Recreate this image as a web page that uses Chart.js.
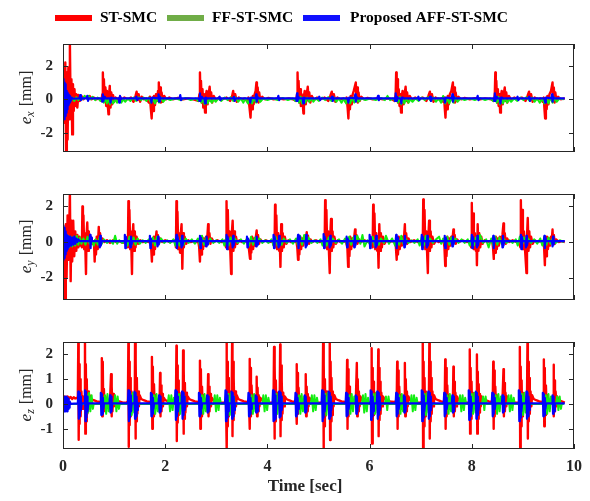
<!DOCTYPE html>
<html>
<head>
<meta charset="utf-8">
<script src="https://cdn.jsdelivr.net/npm/chart.js@4.4.1/dist/chart.umd.min.js"></script>
<style>
  body { margin: 0; background: #fff; }
  #wrap { position: relative; width: 590px; height: 501px; overflow: hidden; }
  #wrap canvas { position: absolute; left: 0; }
</style>
</head>
<body>
<div id="wrap">
  <canvas id="chartX" width="590" height="172" style="top:0"></canvas>
  <canvas id="chartY" width="590" height="160" style="top:160px"></canvas>
  <canvas id="chartZ" width="590" height="191" style="top:310px"></canvas>
</div>
<script>
var seriesNames = ['ST-SMC', 'FF-ST-SMC', 'Proposed AFF-ST-SMC'];
var lineColors = ['#ff0000', '#11ee11', '#0000ff'];
var legendColors = ['#ff0000', '#70ad47', '#1010ff'];
var timeTicks = [0, 2, 4, 6, 8, 10];
var exTicks = [-2, 0, 2];
var eyTicks = [-2, 0, 2];
var ezTicks = [-1, 0, 1, 2];

// tracking error e_x [mm] vs time [sec]
var exRed = [
  [0,0.2],[0.015,1.3],[0.03,-1.4],[0.045,2.2],[0.06,-3.2],[0.075,1.6],[0.09,-2.4],[0.105,1.9],[0.12,-1.2],[0.135,3.3],[0.15,-0.8],[0.165,1.2],[0.18,-2.1],[0.195,0.9],[0.21,-0.7],[0.225,0.6],[0.24,-0.4],[0.26,0.3],[0.28,-0.5],[0.3,0.25],[0.33,-0.1],[0.36,0.2],[0.4,0.0],[0.44,0.15],[0.48,0.05],[0.52,0.2],[0.56,0.0],[0.6,0.1],[0.65,0.0],[0.7,0.05],
  [0.75,-0.1],[0.77,0.3],[0.78,1.6],[0.79,0.1],[0.8,1.2],[0.815,-0.1],[0.83,0.7],[0.845,-0.4],[0.86,0.5],[0.875,-0.3],[0.89,-0.9],[0.9,0.2],[0.915,0.8],[0.93,-0.5],[0.945,0.4],[0.96,-0.3],[0.98,0.25],[1.0,-0.15],[1.03,0.1],[1.07,0.0],
  [1.12,0.15],[1.15,-0.1],[1.2,0.1],[1.27,0.0],[1.33,0.1],[1.38,-0.15],[1.42,0.2],[1.44,0.45],[1.46,-0.05],[1.48,0.3],[1.51,-0.15],[1.54,0.15],[1.58,0.0],[1.63,0.05],
  [1.68,-0.2],[1.7,0.15],[1.72,-0.6],[1.735,-1.15],[1.75,0.1],[1.765,-0.7],[1.78,0.2],[1.8,-0.35],[1.82,0.3],[1.84,-0.1],[1.86,0.5],[1.875,1.0],[1.885,0.1],[1.9,0.7],[1.915,-0.2],[1.93,0.4],[1.95,-0.15],[1.98,0.2],[2.02,0.0],[2.08,0.1],[2.15,0.0],[2.25,0.08],[2.35,0.0],[2.45,0.05],[2.55,0.0],
  [2.65,-0.1],[2.67,0.3],[2.68,1.6],[2.69,0.1],[2.7,1.1],[2.715,-0.2],[2.73,0.6],[2.745,-0.5],[2.76,0.3],[2.78,-0.8],[2.795,0.2],[2.81,0.5],[2.83,-0.3],[2.85,0.3],[2.87,0.75],[2.885,-0.1],[2.9,0.4],[2.92,-0.2],[2.95,0.2],[2.99,-0.05],[3.05,0.1],[3.12,0.0],[3.2,0.1],[3.27,-0.1],[3.31,0.2],[3.33,0.5],[3.35,-0.05],[3.37,0.3],[3.4,-0.15],[3.44,0.1],[3.5,0.0],[3.56,0.05],
  [3.61,-0.15],[3.63,0.1],[3.65,-0.5],[3.67,-1.1],[3.685,0.05],[3.7,-0.6],[3.715,0.2],[3.73,-0.3],[3.75,0.3],[3.77,0.5],[3.785,1.0],[3.795,0.1],[3.81,0.7],[3.825,-0.2],[3.84,0.4],[3.86,-0.1],[3.9,0.15],[3.95,0.0],[4.02,0.08],[4.12,0.0],[4.22,0.06],[4.32,0.0],[4.42,0.05],[4.5,0.0],
  [4.56,-0.1],[4.58,0.3],[4.59,1.6],[4.6,0.1],[4.61,1.1],[4.625,-0.2],[4.64,0.6],[4.655,-0.4],[4.67,0.3],[4.69,-0.2],[4.705,-0.85],[4.715,0.2],[4.73,0.5],[4.75,-0.3],[4.77,0.3],[4.79,0.75],[4.805,-0.1],[4.82,0.4],[4.84,-0.2],[4.87,0.2],[4.91,-0.05],[4.97,0.1],[5.04,0.0],[5.12,0.1],[5.19,-0.1],[5.23,0.2],[5.26,0.45],[5.28,-0.05],[5.3,0.3],[5.33,-0.15],[5.37,0.1],[5.43,0.0],[5.49,0.05],
  [5.53,-0.15],[5.55,0.1],[5.57,-0.5],[5.585,-1.15],[5.6,0.05],[5.615,-0.6],[5.63,0.2],[5.65,-0.3],[5.67,0.3],[5.69,0.5],[5.73,1.0],[5.74,0.1],[5.755,0.7],[5.77,-0.2],[5.785,0.4],[5.805,-0.1],[5.84,0.15],[5.89,0.0],[5.96,0.08],[6.06,0.0],[6.16,0.06],[6.26,0.0],[6.36,0.05],[6.44,0.0],
  [6.49,-0.1],[6.51,0.3],[6.52,1.6],[6.53,0.1],[6.54,1.2],[6.555,-0.2],[6.57,0.6],[6.585,-0.4],[6.6,0.3],[6.615,-0.8],[6.63,0.2],[6.645,0.5],[6.665,-0.3],[6.685,0.3],[6.705,0.75],[6.72,-0.1],[6.735,0.4],[6.755,-0.2],[6.785,0.2],[6.83,-0.05],[6.89,0.1],[6.96,0.0],[7.04,0.1],[7.11,-0.1],[7.15,0.2],[7.18,0.45],[7.2,-0.05],[7.22,0.3],[7.25,-0.15],[7.29,0.1],[7.35,0.0],[7.41,0.05],
  [7.44,-0.15],[7.46,0.1],[7.47,-0.5],[7.485,-1.1],[7.5,0.05],[7.515,-0.6],[7.53,0.2],[7.55,-0.3],[7.57,0.3],[7.6,0.5],[7.63,1.0],[7.64,0.1],[7.655,0.7],[7.67,-0.2],[7.685,0.4],[7.705,-0.1],[7.74,0.15],[7.79,0.0],[7.86,0.08],[7.96,0.0],[8.06,0.06],[8.16,0.0],[8.26,0.05],[8.38,0.0],
  [8.43,-0.1],[8.45,0.3],[8.46,1.6],[8.47,0.1],[8.48,1.1],[8.495,-0.2],[8.51,0.6],[8.525,-0.4],[8.54,0.3],[8.555,-0.8],[8.57,0.2],[8.585,0.5],[8.605,-0.3],[8.625,0.3],[8.645,0.7],[8.66,-0.1],[8.675,0.4],[8.695,-0.2],[8.725,0.2],[8.77,-0.05],[8.83,0.1],[8.9,0.0],[8.98,0.1],[9.05,-0.1],[9.09,0.2],[9.12,0.45],[9.14,-0.05],[9.16,0.3],[9.19,-0.15],[9.23,0.1],[9.29,0.0],[9.35,0.05],
  [9.39,-0.15],[9.41,0.1],[9.42,-0.5],[9.435,-1.15],[9.45,0.05],[9.465,-0.6],[9.48,0.2],[9.5,-0.3],[9.52,0.3],[9.55,0.5],[9.58,1.0],[9.59,0.1],[9.605,0.7],[9.62,-0.2],[9.635,0.4],[9.655,-0.1],[9.69,0.15],[9.74,0.0],[9.82,0.05]
];
var exGreen = [
  [0,0],[0.02,0.3],[0.04,-0.35],[0.06,0.25],[0.08,-0.2],[0.11,0.2],[0.14,-0.15],[0.18,0.1],[0.22,-0.1],[0.26,0.12],[0.3,-0.05],[0.34,0.15],[0.38,0.0],[0.42,0.2],[0.46,0.05],[0.5,0.2],[0.54,0.0],[0.58,0.15],[0.63,-0.05],[0.68,0.1],[0.73,-0.1],[0.77,0.1],[0.8,-0.2],[0.83,0.05],[0.86,-0.25],[0.89,0.0],[0.92,-0.3],[0.95,-0.05],[0.98,-0.25],[1.02,0.0],[1.06,-0.2],[1.1,0.05],[1.14,-0.2],[1.18,0.0],[1.22,-0.15],[1.27,0.05],[1.32,-0.1],[1.38,0.1],[1.43,-0.1],[1.48,0.12],[1.53,-0.05],[1.58,0.1],[1.63,-0.1],[1.68,0.1],[1.72,-0.2],[1.76,0.05],[1.8,-0.25],[1.84,0.05],[1.88,-0.2],[1.92,0.1],[1.96,-0.15],[2.02,0.05],[2.1,-0.05],[2.2,0.05],[2.3,-0.05],[2.4,0.08],[2.5,-0.05],[2.6,0.05],
  [2.64,-0.1],[2.68,0.1],[2.71,-0.2],[2.74,0.05],[2.77,-0.3],[2.8,0.0],[2.83,-0.25],[2.87,0.05],[2.91,-0.2],[2.95,0.0],[2.99,-0.15],[3.04,0.05],[3.1,-0.1],[3.16,0.1],[3.22,-0.05],[3.28,0.12],[3.33,-0.1],[3.38,0.1],[3.43,-0.15],[3.48,0.05],[3.53,-0.2],[3.57,0.05],[3.62,-0.25],[3.66,0.05],[3.7,-0.25],[3.74,0.1],[3.78,-0.2],[3.82,0.1],[3.86,-0.15],[3.92,0.05],[4.0,-0.05],[4.1,0.05],[4.2,-0.05],[4.3,0.08],[4.4,-0.05],[4.5,0.05],
  [4.55,-0.1],[4.59,0.1],[4.62,-0.2],[4.65,0.15],[4.68,-0.25],[4.71,0.1],[4.74,-0.2],[4.78,0.1],[4.82,-0.15],[4.86,0.05],[4.9,-0.15],[4.95,0.05],[5.01,-0.1],[5.07,0.1],[5.13,-0.05],[5.19,0.12],[5.25,-0.1],[5.3,0.1],[5.35,-0.15],[5.4,0.05],[5.45,-0.2],[5.5,0.05],[5.54,-0.25],[5.58,0.05],[5.62,-0.25],[5.66,0.1],[5.7,-0.2],[5.74,0.1],[5.78,-0.15],[5.84,0.05],[5.92,-0.05],[6.02,0.05],[6.12,-0.05],[6.22,0.08],[6.3,-0.05],[6.35,0.2],[6.4,-0.05],[6.46,0.05],
  [6.5,-0.1],[6.53,0.1],[6.56,-0.2],[6.59,0.15],[6.62,-0.3],[6.65,0.05],[6.68,-0.25],[6.72,0.05],[6.76,-0.2],[6.8,0.0],[6.84,-0.15],[6.9,0.05],[6.96,-0.1],[7.02,0.1],[7.08,-0.05],[7.14,0.12],[7.2,-0.1],[7.25,0.1],[7.3,-0.15],[7.35,0.05],[7.4,-0.2],[7.44,0.2],[7.48,-0.25],[7.52,0.05],[7.56,-0.25],[7.6,0.1],[7.64,-0.2],[7.68,0.1],[7.72,-0.15],[7.78,0.05],[7.86,-0.05],[7.96,0.05],[8.06,-0.05],[8.16,0.08],[8.26,-0.05],[8.36,0.05],
  [8.42,-0.1],[8.46,0.1],[8.49,-0.2],[8.52,0.15],[8.55,-0.3],[8.58,0.05],[8.61,-0.25],[8.65,0.05],[8.69,-0.2],[8.73,0.0],[8.77,-0.15],[8.83,0.05],[8.89,-0.1],[8.95,0.1],[9.01,-0.05],[9.07,0.12],[9.13,-0.1],[9.18,0.1],[9.23,-0.15],[9.28,0.05],[9.33,-0.2],[9.38,0.05],[9.42,-0.25],[9.46,0.05],[9.5,-0.25],[9.54,0.1],[9.58,-0.2],[9.62,0.1],[9.66,-0.15],[9.72,0.05],[9.8,0.0]
];
var exBlue = [
  [0,0.0],[0.008,1.2],[0.016,-1.1],[0.024,1.0],[0.032,-1.2],[0.04,0.9],[0.048,-1.0],[0.056,0.7],[0.064,-0.8],[0.072,0.5],[0.08,-0.6],[0.09,0.4],[0.1,-0.35],[0.11,0.3],[0.12,-0.2],[0.135,0.2],[0.15,-0.1],[0.17,0.1],[0.2,0.03],
  [0.32,0.05],[0.335,0.25],[0.35,-0.05],[0.37,0.05],[0.46,0.05],[0.475,0.2],[0.49,-0.1],[0.51,0.05],[0.76,0.05],[0.77,-0.15],[0.78,0.3],[0.79,-0.1],[0.805,0.15],[0.82,0.05],[0.92,0.05],[0.93,-0.2],[0.945,0.1],[0.96,0.05],
  [1.09,0.05],[1.1,-0.2],[1.115,0.2],[1.13,0.0],[1.15,0.05],[1.42,0.05],[1.435,0.15],[1.45,-0.05],[1.47,0.05],[1.72,0.05],[1.73,-0.2],[1.745,0.1],[1.86,0.05],[1.87,0.3],[1.88,-0.15],[1.895,0.15],[1.91,0.05],
  [2.28,0.05],[2.295,0.25],[2.31,-0.05],[2.33,0.05],[2.66,0.05],[2.67,-0.1],[2.68,0.35],[2.69,-0.1],[2.705,0.15],[2.72,0.05],[2.77,0.05],[2.78,-0.25],[2.795,0.1],[2.81,0.05],
  [3.05,0.05],[3.065,0.15],[3.08,-0.05],[3.1,0.05],[3.33,0.05],[3.345,0.15],[3.36,-0.1],[3.38,0.05],[3.65,0.05],[3.665,-0.2],[3.68,0.1],[3.77,0.05],[3.78,0.3],[3.79,-0.15],[3.805,0.15],[3.82,0.05],
  [4.2,0.05],[4.215,0.2],[4.23,-0.05],[4.25,0.05],[4.56,0.05],[4.57,-0.1],[4.58,0.35],[4.59,-0.1],[4.605,0.15],[4.62,0.05],[4.69,0.05],[4.7,-0.25],[4.715,0.1],[4.73,0.05],
  [5.0,0.05],[5.015,0.15],[5.03,-0.05],[5.05,0.05],[5.25,0.05],[5.265,0.15],[5.28,-0.1],[5.3,0.05],[5.57,0.05],[5.585,-0.2],[5.6,0.1],[5.71,0.05],[5.72,0.3],[5.73,-0.15],[5.745,0.15],[5.76,0.05],
  [6.15,0.05],[6.165,0.2],[6.18,-0.05],[6.2,0.05],[6.49,0.05],[6.5,-0.1],[6.51,0.35],[6.52,-0.1],[6.535,0.15],[6.55,0.05],[6.61,0.05],[6.62,-0.25],[6.635,0.1],[6.65,0.05],
  [6.94,0.05],[6.955,0.15],[6.97,-0.05],[6.99,0.05],[7.17,0.05],[7.185,0.15],[7.2,-0.1],[7.22,0.05],[7.46,0.05],[7.475,-0.2],[7.49,0.1],[7.61,0.05],[7.62,0.3],[7.63,-0.15],[7.645,0.15],[7.66,0.05],
  [8.1,0.05],[8.115,0.2],[8.13,-0.05],[8.15,0.05],[8.43,0.05],[8.44,-0.1],[8.45,0.35],[8.46,-0.1],[8.475,0.15],[8.49,0.05],[8.55,0.05],[8.56,-0.25],[8.575,0.1],[8.59,0.05],
  [8.88,0.05],[8.895,0.15],[8.91,-0.05],[8.93,0.05],[9.11,0.05],[9.125,0.15],[9.14,-0.1],[9.16,0.05],[9.42,0.05],[9.435,-0.2],[9.45,0.1],[9.56,0.05],[9.57,0.3],[9.58,-0.15],[9.595,0.15],[9.61,0.05],[9.82,0.05]
];

// tracking error e_y [mm] vs time [sec]
var eyRed = [
  [0,0],[0.02,-1.0],[0.04,-3.3],[0.055,1.0],[0.07,-2.0],[0.09,1.5],[0.11,-1.0],[0.135,2.75],[0.15,-2.2],[0.165,1.2],[0.18,-1.1],[0.2,1.2],[0.22,-0.8],[0.24,0.6],[0.26,-0.5],[0.28,0.4],[0.3,-0.3],[0.32,0.3],[0.34,-0.2],[0.36,0.1],
  [0.37,-0.3],[0.38,2.0],[0.39,0.0],[0.4,1.5],[0.415,-0.4],[0.43,0.5],[0.45,-1.8],[0.46,0.3],[0.475,1.1],[0.49,-0.5],[0.505,0.6],[0.52,-0.3],[0.54,0.3],[0.57,-0.1],
  [0.6,0.0],[0.61,-0.3],[0.62,-1.1],[0.63,0.1],[0.645,-0.7],[0.66,0.3],[0.68,-0.4],[0.7,0.85],[0.71,0.0],[0.725,0.5],[0.745,-0.1],[0.77,0.2],[0.81,0.0],[0.86,0.1],[0.92,-0.05],[0.98,0.1],[1.04,0.0],[1.1,0.05],[1.17,-0.05],[1.23,0.05],
  [1.26,0.1],[1.27,-0.3],[1.28,2.3],[1.29,0.0],[1.3,1.8],[1.315,-0.4],[1.33,0.6],[1.35,-1.8],[1.36,0.3],[1.375,1.0],[1.39,-0.5],[1.405,0.6],[1.42,-0.3],[1.44,0.3],[1.47,-0.1],[1.51,0.1],[1.56,0.0],[1.62,0.05],[1.68,0.0],
  [1.71,0.0],[1.725,-0.3],[1.74,-1.1],[1.75,0.1],[1.765,-0.7],[1.78,0.3],[1.8,-0.4],[1.815,0.2],[1.83,0.6],[1.84,0.0],[1.855,0.4],[1.875,-0.1],[1.9,0.2],[1.94,0.0],[2.0,0.1],[2.08,0.0],[2.15,0.05],
  [2.2,0.1],[2.21,-0.3],[2.22,2.3],[2.23,0.0],[2.24,1.7],[2.255,-0.4],[2.27,0.5],[2.29,-0.6],[2.3,0.3],[2.32,1.0],[2.335,-1.5],[2.35,0.5],[2.365,-0.3],[2.38,0.3],[2.41,-0.1],[2.45,0.1],[2.5,0.0],[2.56,0.05],[2.62,0.0],
  [2.65,0.0],[2.665,-0.3],[2.68,-1.1],[2.69,0.1],[2.705,-0.7],[2.72,0.3],[2.74,-0.4],[2.76,0.2],[2.78,-0.2],[2.8,0.3],[2.82,0.1],[2.84,1.0],[2.85,0.0],[2.865,0.5],[2.885,-0.1],[2.91,0.2],[2.95,0.0],[3.02,0.1],[3.1,0.0],[3.15,0.05],
  [3.18,0.1],[3.19,-0.3],[3.2,2.3],[3.21,0.0],[3.225,1.8],[3.24,-0.4],[3.26,0.6],[3.29,-1.8],[3.3,0.3],[3.32,1.2],[3.335,-0.5],[3.35,0.6],[3.365,-0.3],[3.385,0.3],[3.41,-0.1],[3.45,0.1],[3.5,0.0],[3.56,0.05],[3.61,0.0],
  [3.635,-0.3],[3.66,-0.95],[3.67,0.1],[3.685,-0.6],[3.7,0.3],[3.72,-0.4],[3.74,0.2],[3.76,-0.2],[3.775,0.3],[3.79,0.65],[3.8,0.0],[3.815,0.4],[3.835,-0.1],[3.86,0.15],[3.9,0.0],[3.97,0.1],[4.04,0.0],[4.1,0.05],
  [4.14,-0.3],[4.15,2.1],[4.16,0.0],[4.175,1.5],[4.19,-0.4],[4.21,0.5],[4.23,-0.5],[4.24,0.3],[4.255,-1.4],[4.27,1.0],[4.285,-0.5],[4.3,0.5],[4.32,-0.3],[4.34,0.3],[4.37,-0.1],[4.41,0.1],[4.46,0.0],[4.52,0.05],[4.57,0.0],
  [4.585,-0.3],[4.6,-1.0],[4.61,0.1],[4.625,-0.7],[4.64,0.3],[4.66,-0.4],[4.68,0.2],[4.7,-0.2],[4.72,0.3],[4.75,0.1],[4.77,0.55],[4.78,0.0],[4.795,0.35],[4.815,-0.1],[4.84,0.15],[4.88,0.0],[4.95,0.1],[5.02,0.0],[5.08,0.05],
  [5.12,-0.3],[5.13,2.35],[5.14,0.0],[5.155,1.8],[5.17,-0.4],[5.19,0.6],[5.22,-1.75],[5.23,0.3],[5.245,1.3],[5.26,-0.5],[5.275,0.6],[5.29,-0.3],[5.31,0.3],[5.34,-0.1],[5.38,0.1],[5.43,0.0],[5.49,0.05],[5.54,0.0],
  [5.565,-0.3],[5.58,-1.4],[5.59,0.1],[5.605,-0.8],[5.62,0.3],[5.64,-0.4],[5.66,0.2],[5.68,-0.2],[5.7,0.3],[5.715,0.7],[5.725,0.0],[5.74,0.4],[5.76,-0.1],[5.79,0.15],[5.83,0.0],[5.9,0.1],[5.97,0.0],[6.03,0.05],
  [6.06,-0.3],[6.07,2.1],[6.08,0.0],[6.095,1.6],[6.11,-0.4],[6.13,0.5],[6.15,-0.5],[6.16,0.3],[6.175,-1.45],[6.19,1.0],[6.205,-0.5],[6.22,0.5],[6.24,-0.3],[6.26,0.3],[6.29,-0.1],[6.33,0.1],[6.38,0.0],[6.44,0.05],[6.5,0.0],
  [6.515,-0.3],[6.53,-1.0],[6.54,0.1],[6.555,-0.7],[6.57,0.3],[6.59,-0.4],[6.61,0.2],[6.63,-0.2],[6.65,0.3],[6.67,0.1],[6.69,1.0],[6.7,0.0],[6.715,0.5],[6.735,-0.1],[6.76,0.2],[6.8,0.0],[6.87,0.1],[6.94,0.0],[7.0,0.05],
  [7.04,-0.3],[7.05,2.4],[7.06,0.0],[7.075,1.8],[7.09,-0.4],[7.11,0.6],[7.14,-1.75],[7.15,0.3],[7.165,1.2],[7.18,-0.5],[7.195,0.6],[7.21,-0.3],[7.23,0.3],[7.26,-0.1],[7.3,0.1],[7.35,0.0],[7.41,0.05],[7.45,0.0],
  [7.465,-0.3],[7.48,-1.35],[7.49,0.1],[7.505,-0.8],[7.52,0.3],[7.54,-0.4],[7.56,0.2],[7.58,-0.2],[7.6,0.3],[7.62,0.1],[7.64,0.7],[7.65,0.0],[7.665,0.4],[7.685,-0.1],[7.71,0.15],[7.75,0.0],[7.82,0.1],[7.9,0.0],[7.96,0.05],
  [7.99,-0.3],[8.0,2.2],[8.01,0.0],[8.025,1.6],[8.04,-0.4],[8.06,0.5],[8.08,-0.5],[8.09,0.3],[8.1,-1.3],[8.115,1.0],[8.13,-0.5],[8.145,0.5],[8.165,-0.3],[8.185,0.3],[8.21,-0.1],[8.25,0.1],[8.3,0.0],[8.36,0.05],[8.4,0.0],
  [8.415,-0.3],[8.43,-0.95],[8.44,0.1],[8.455,-0.6],[8.47,0.3],[8.49,-0.4],[8.51,0.2],[8.53,-0.2],[8.55,0.3],[8.58,0.1],[8.6,0.4],[8.62,1.05],[8.63,0.0],[8.645,0.5],[8.665,-0.1],[8.69,0.2],[8.73,0.0],[8.8,0.1],[8.87,0.0],[8.93,0.05],
  [8.95,-0.3],[8.96,2.35],[8.97,0.0],[8.985,1.8],[9.0,-0.4],[9.02,0.6],[9.07,-1.75],[9.08,0.3],[9.095,1.35],[9.11,-0.5],[9.125,0.6],[9.14,-0.3],[9.16,0.3],[9.19,-0.1],[9.23,0.1],[9.28,0.0],[9.34,0.05],[9.4,0.0],
  [9.415,-0.3],[9.43,-1.3],[9.44,0.1],[9.455,-0.8],[9.47,0.3],[9.49,-0.4],[9.51,0.2],[9.53,-0.2],[9.55,0.3],[9.565,0.1],[9.58,0.7],[9.59,0.0],[9.605,0.4],[9.625,-0.1],[9.65,0.15],[9.7,0.0],[9.76,0.05],[9.82,0.0]
];
var eyGreen = [
  [0,0],[0.02,0.5],[0.04,-0.5],[0.06,0.4],[0.08,-0.4],[0.1,0.35],[0.12,-0.3],[0.15,0.3],[0.18,-0.25],[0.21,0.3],[0.24,-0.2],[0.27,0.35],[0.3,-0.15],[0.33,0.25],[0.36,-0.1],[0.4,0.2],[0.44,-0.15],[0.48,0.3],[0.52,-0.1],[0.56,0.2],[0.6,-0.2],[0.64,0.15],[0.68,-0.15],[0.72,0.3],[0.76,-0.1],[0.8,0.15],[0.86,-0.05],[0.92,0.1],[0.98,-0.1],
  [1.02,0.35],[1.06,-0.1],[1.1,0.1],[1.16,-0.05],[1.22,0.1],[1.26,-0.2],[1.3,0.3],[1.34,-0.2],[1.38,0.25],[1.42,-0.15],[1.46,0.2],[1.5,-0.1],[1.56,0.1],[1.62,-0.05],[1.68,0.15],[1.72,-0.2],[1.76,0.25],[1.8,-0.2],[1.84,0.3],[1.88,-0.1],[1.92,0.2],[1.98,-0.05],
  [2.04,0.1],[2.1,-0.05],[2.16,0.15],[2.2,-0.2],[2.24,0.3],[2.28,-0.2],[2.32,0.25],[2.36,-0.15],[2.4,0.2],[2.46,-0.05],[2.52,0.15],[2.58,-0.1],[2.64,0.2],[2.68,-0.2],[2.72,0.35],[2.76,-0.15],[2.8,0.25],[2.84,-0.1],[2.88,0.2],[2.94,-0.05],
  [3.0,0.1],[3.06,-0.05],[3.12,0.15],[3.16,-0.2],[3.2,0.3],[3.24,-0.2],[3.28,0.25],[3.32,-0.15],[3.36,0.2],[3.42,-0.05],[3.48,0.15],[3.54,-0.1],[3.6,0.2],[3.64,-0.2],[3.68,0.3],[3.72,-0.15],[3.76,0.25],[3.8,-0.1],[3.84,0.2],[3.9,-0.05],[3.96,0.1],
  [4.02,-0.05],[4.08,0.15],[4.12,-0.2],[4.16,0.3],[4.2,-0.2],[4.24,0.25],[4.28,-0.15],[4.32,0.2],[4.38,-0.05],[4.44,0.15],[4.5,-0.1],[4.56,0.2],[4.6,-0.2],[4.64,0.35],[4.68,-0.15],[4.72,0.4],[4.76,-0.1],[4.8,0.25],[4.86,-0.05],[4.92,0.1],[4.98,-0.05],
  [5.04,0.15],[5.08,-0.2],[5.12,0.3],[5.16,-0.2],[5.2,0.25],[5.24,-0.15],[5.28,0.2],[5.34,-0.05],[5.4,0.15],[5.46,-0.1],[5.52,0.2],[5.56,-0.2],[5.6,0.3],[5.64,-0.15],[5.68,0.25],[5.72,-0.1],[5.76,0.35],[5.82,-0.1],[5.86,0.4],[5.9,-0.25],[5.96,0.1],
  [6.02,-0.2],[6.06,0.3],[6.1,-0.2],[6.14,0.25],[6.18,-0.15],[6.22,0.2],[6.28,-0.05],[6.32,0.35],[6.38,-0.1],[6.44,0.2],[6.5,-0.2],[6.54,0.3],[6.58,-0.15],[6.62,0.35],[6.66,-0.1],[6.7,0.2],[6.76,-0.05],[6.82,0.1],[6.88,-0.05],[6.94,0.15],[6.98,-0.2],
  [7.02,0.3],[7.06,-0.2],[7.1,0.35],[7.14,-0.15],[7.18,0.2],[7.24,-0.05],[7.3,0.15],[7.36,0.3],[7.4,-0.1],[7.44,0.2],[7.48,-0.2],[7.52,0.3],[7.56,-0.15],[7.6,0.25],[7.64,-0.1],[7.68,0.2],[7.74,-0.05],[7.8,0.15],[7.86,-0.05],[7.92,0.15],[7.96,-0.2],
  [8.0,0.3],[8.04,-0.2],[8.08,0.25],[8.12,-0.15],[8.16,0.4],[8.22,-0.05],[8.28,0.15],[8.33,-0.3],[8.38,0.2],[8.42,-0.2],[8.46,0.3],[8.5,-0.15],[8.54,0.25],[8.58,-0.1],[8.62,0.2],[8.68,-0.05],[8.74,0.1],[8.8,-0.05],[8.86,0.15],[8.9,-0.2],
  [8.94,0.3],[8.98,-0.2],[9.02,0.25],[9.06,-0.15],[9.1,0.2],[9.16,-0.05],[9.22,0.15],[9.28,-0.1],[9.34,0.2],[9.38,-0.2],[9.42,0.3],[9.46,-0.15],[9.5,0.25],[9.54,-0.1],[9.58,0.2],[9.64,-0.05],[9.72,0.1],[9.8,0.0]
];
var eyBlue = [
  [0,0],[0.008,0.9],[0.016,-1.0],[0.024,0.8],[0.032,-0.9],[0.04,0.6],[0.048,-0.7],[0.056,0.5],[0.064,-0.5],[0.072,0.4],[0.08,-0.4],[0.09,0.35],[0.1,-0.3],[0.11,0.3],[0.12,-0.25],[0.14,0.3],[0.16,-0.2],[0.18,0.25],[0.2,-0.15],[0.22,0.3],[0.24,-0.1],[0.26,0.2],[0.28,0.0],[0.3,0.15],[0.33,0.05],
  [0.52,0.05],[0.53,0.4],[0.54,-0.35],[0.55,0.25],[0.565,0.05],[0.71,0.05],[0.72,-0.3],[0.73,0.35],[0.74,-0.2],[0.755,0.05],
  [1.2,0.05],[1.21,0.4],[1.22,-0.35],[1.23,0.3],[1.245,0.05],[1.31,0.05],[1.32,-0.3],[1.33,0.3],[1.34,-0.15],[1.355,0.05],
  [1.69,0.05],[1.7,0.35],[1.71,-0.35],[1.72,0.2],[1.735,0.05],[1.84,0.05],[1.85,-0.25],[1.86,0.3],[1.87,-0.15],[1.885,0.05],
  [2.21,0.05],[2.22,0.4],[2.23,-0.35],[2.24,0.3],[2.255,0.05],[2.31,0.05],[2.32,-0.3],[2.33,0.35],[2.34,-0.2],[2.355,0.05],
  [2.67,0.05],[2.68,0.35],[2.69,-0.35],[2.7,0.25],[2.715,0.05],[2.79,0.05],[2.8,-0.25],[2.81,0.3],[2.82,-0.15],[2.835,0.05],
  [3.19,0.05],[3.2,0.4],[3.21,-0.4],[3.22,0.3],[3.235,0.05],[3.31,0.05],[3.32,-0.3],[3.33,0.35],[3.34,-0.2],[3.355,0.05],
  [3.59,0.05],[3.6,0.3],[3.61,-0.3],[3.62,0.2],[3.635,0.05],[3.77,0.05],[3.78,-0.25],[3.79,0.3],[3.8,-0.15],[3.815,0.05],
  [4.11,0.05],[4.12,0.4],[4.13,-0.35],[4.14,0.3],[4.155,0.05],[4.21,0.05],[4.22,-0.3],[4.23,0.35],[4.24,-0.2],[4.255,0.05],
  [4.59,0.05],[4.6,0.4],[4.61,-0.35],[4.62,0.3],[4.635,0.05],[4.74,0.05],[4.75,-0.3],[4.76,0.4],[4.77,-0.2],[4.785,0.05],
  [5.09,0.05],[5.1,0.45],[5.11,-0.35],[5.12,0.3],[5.135,0.05],[5.21,0.05],[5.22,-0.3],[5.23,0.35],[5.24,-0.2],[5.255,0.05],
  [5.54,0.05],[5.55,0.3],[5.56,-0.3],[5.57,0.2],[5.585,0.05],[5.69,0.05],[5.7,-0.3],[5.71,0.35],[5.72,-0.2],[5.735,0.05],
  [5.99,0.05],[6.0,0.4],[6.01,-0.35],[6.02,0.3],[6.035,0.05],[6.11,0.05],[6.12,-0.3],[6.13,0.35],[6.14,-0.2],[6.155,0.05],
  [6.51,0.05],[6.52,0.4],[6.53,-0.35],[6.54,0.25],[6.555,0.05],[6.67,0.05],[6.68,-0.3],[6.69,0.35],[6.7,-0.15],[6.715,0.05],
  [7.01,0.05],[7.02,0.4],[7.03,-0.4],[7.04,0.3],[7.055,0.05],[7.11,0.05],[7.12,-0.3],[7.13,0.35],[7.14,-0.2],[7.155,0.05],
  [7.46,0.05],[7.47,0.35],[7.48,-0.35],[7.49,0.25],[7.505,0.05],[7.61,0.05],[7.62,-0.25],[7.63,0.3],[7.64,-0.15],[7.655,0.05],
  [7.99,0.05],[8.0,0.4],[8.01,-0.35],[8.02,0.3],[8.035,0.05],[8.09,0.05],[8.1,-0.3],[8.11,0.35],[8.12,-0.2],[8.135,0.05],
  [8.41,0.05],[8.42,0.35],[8.43,-0.35],[8.44,0.25],[8.455,0.05],[8.59,0.05],[8.6,-0.3],[8.61,0.35],[8.62,-0.2],[8.635,0.05],
  [8.95,0.05],[8.96,0.4],[8.97,-0.4],[8.98,0.3],[8.995,0.05],[9.05,0.05],[9.06,-0.3],[9.07,0.35],[9.08,-0.2],[9.095,0.05],
  [9.41,0.05],[9.42,0.35],[9.43,-0.35],[9.44,0.25],[9.455,0.05],[9.57,0.05],[9.58,-0.25],[9.59,0.3],[9.6,-0.15],[9.615,0.05],[9.82,0.05]
];

// tracking error e_z [mm] vs time [sec]
var ezRed = [
  [0,0.25],[0.03,0.3],[0.06,0.2],[0.09,0.3],[0.12,0.22],[0.15,0.28],[0.18,0.2],[0.21,0.27],[0.24,0.22],[0.27,0.25],[0.29,0.2],
  [0.3,2.6],[0.307,-1.45],[0.317,1.6],[0.325,-0.8],[0.335,1.0],[0.345,-0.5],[0.36,0.5],[0.375,-0.2],[0.39,0.3],[0.41,0.15],[0.425,0.2],
  [0.43,2.6],[0.437,-1.2],[0.447,1.6],[0.455,-0.7],[0.465,1.0],[0.475,-0.4],[0.49,0.5],[0.505,-0.2],[0.52,0.35],[0.55,0.2],[0.6,0.15],[0.66,0.1],[0.72,0.08],[0.75,0.1],
  [0.76,1.85],[0.768,-0.5],[0.778,1.7],[0.788,-0.3],[0.8,0.6],[0.815,-0.2],[0.83,0.3],[0.85,0.1],[0.88,0.15],[0.92,0.1],
  [0.94,1.2],[0.948,-0.5],[0.958,0.7],[0.968,-0.3],[0.98,0.4],[0.995,-0.1],[1.01,0.25],[1.04,0.15],[1.1,0.1],[1.17,0.05],[1.24,0.05],[1.27,0.1],
  [1.28,2.6],[1.287,-1.73],[1.297,1.7],[1.305,-0.85],[1.315,1.05],[1.325,-0.5],[1.34,0.5],[1.355,-0.1],[1.37,0.3],[1.39,0.15],[1.405,0.2],
  [1.41,2.6],[1.417,-1.4],[1.427,1.7],[1.435,-0.7],[1.445,1.05],[1.455,-0.4],[1.47,0.5],[1.485,-0.1],[1.5,0.35],[1.53,0.2],[1.58,0.15],[1.64,0.1],[1.7,0.08],[1.73,0.1],
  [1.74,1.9],[1.748,-1.0],[1.758,1.5],[1.768,-0.5],[1.78,0.8],[1.795,-0.2],[1.81,0.35],[1.83,0.1],[1.86,0.15],[1.89,0.1],
  [1.9,1.25],[1.908,-0.5],[1.918,0.75],[1.928,-0.3],[1.94,0.4],[1.955,-0.1],[1.97,0.25],[2.0,0.15],[2.06,0.1],[2.13,0.05],[2.19,0.05],[2.21,0.1],
  [2.22,2.35],[2.227,-1.5],[2.237,1.55],[2.245,-0.75],[2.255,0.95],[2.265,-0.45],[2.28,0.45],[2.295,-0.1],[2.31,0.3],[2.33,0.15],[2.345,0.2],
  [2.35,2.16],[2.357,-1.2],[2.367,1.4],[2.375,-0.6],[2.385,0.85],[2.395,-0.35],[2.41,0.45],[2.425,-0.1],[2.44,0.3],[2.47,0.2],[2.52,0.15],[2.58,0.1],[2.64,0.08],[2.67,0.1],
  [2.68,1.75],[2.688,-1.0],[2.698,1.4],[2.708,-0.5],[2.72,0.7],[2.735,-0.2],[2.75,0.35],[2.77,0.1],[2.8,0.15],[2.83,0.1],
  [2.84,1.2],[2.848,-0.5],[2.858,0.7],[2.868,-0.3],[2.88,0.4],[2.895,-0.1],[2.91,0.25],[2.94,0.15],[3.0,0.1],[3.07,0.05],[3.15,0.05],[3.19,0.1],
  [3.2,2.6],[3.207,-1.85],[3.217,1.7],[3.225,-0.9],[3.235,1.05],[3.245,-0.5],[3.26,0.5],[3.275,-0.1],[3.29,0.3],[3.3,0.15],
  [3.31,2.6],[3.317,-1.3],[3.327,1.7],[3.335,-0.65],[3.345,1.05],[3.355,-0.4],[3.37,0.5],[3.385,-0.1],[3.4,0.35],[3.43,0.2],[3.48,0.15],[3.54,0.1],[3.6,0.08],[3.64,0.1],
  [3.65,1.82],[3.658,-1.0],[3.668,1.45],[3.678,-0.5],[3.69,0.75],[3.705,-0.2],[3.72,0.35],[3.74,0.1],[3.76,0.15],[3.78,0.1],
  [3.79,1.1],[3.798,-0.5],[3.808,0.65],[3.818,-0.3],[3.83,0.35],[3.845,-0.1],[3.86,0.25],[3.89,0.15],[3.95,0.1],[4.02,0.05],[4.09,0.05],[4.12,0.1],
  [4.13,2.3],[4.137,-1.4],[4.147,1.5],[4.155,-0.7],[4.165,0.95],[4.175,-0.4],[4.19,0.45],[4.205,-0.1],[4.22,0.3],[4.24,0.15],
  [4.25,2.4],[4.257,-1.3],[4.267,1.55],[4.275,-0.65],[4.285,0.95],[4.295,-0.4],[4.31,0.45],[4.325,-0.1],[4.34,0.3],[4.37,0.2],[4.42,0.15],[4.48,0.1],[4.54,0.08],[4.56,0.1],
  [4.57,1.6],[4.578,-0.8],[4.588,1.25],[4.598,-0.4],[4.61,0.65],[4.625,-0.2],[4.64,0.3],[4.66,0.1],[4.7,0.15],[4.74,0.1],
  [4.75,1.2],[4.758,-0.5],[4.768,0.7],[4.778,-0.3],[4.79,0.4],[4.805,-0.1],[4.82,0.25],[4.85,0.15],[4.91,0.1],[4.98,0.05],[5.05,0.05],[5.08,0.1],
  [5.09,2.45],[5.097,-1.85],[5.107,1.6],[5.115,-0.9],[5.125,1.0],[5.135,-0.5],[5.15,0.5],[5.165,-0.1],[5.18,0.3],[5.2,0.15],[5.21,0.2],
  [5.22,2.6],[5.227,-1.46],[5.237,1.7],[5.245,-0.7],[5.255,1.05],[5.265,-0.45],[5.28,0.5],[5.295,-0.1],[5.31,0.35],[5.34,0.2],[5.39,0.15],[5.45,0.1],[5.51,0.08],[5.55,0.1],
  [5.56,1.78],[5.568,-1.0],[5.578,1.4],[5.588,-0.5],[5.6,0.7],[5.615,-0.2],[5.63,0.35],[5.65,0.1],[5.69,0.15],[5.73,0.1],
  [5.75,1.65],[5.758,-0.5],[5.768,1.0],[5.778,-0.3],[5.79,0.5],[5.805,-0.1],[5.82,0.3],[5.85,0.15],[5.91,0.1],[5.97,0.05],[6.02,0.05],[6.03,0.1],
  [6.04,2.25],[6.047,-1.6],[6.057,1.45],[6.065,-0.8],[6.075,0.9],[6.085,-0.45],[6.1,0.45],[6.115,-0.1],[6.13,0.3],[6.15,0.15],[6.16,0.2],
  [6.17,2.2],[6.177,-1.3],[6.187,1.45],[6.195,-0.65],[6.205,0.9],[6.215,-0.4],[6.23,0.45],[6.245,-0.1],[6.26,0.3],[6.29,0.2],[6.34,0.15],[6.4,0.1],[6.47,0.08],[6.53,0.1],
  [6.54,1.7],[6.548,-1.0],[6.558,1.35],[6.568,-0.5],[6.58,0.7],[6.595,-0.2],[6.61,0.35],[6.63,0.1],[6.66,0.15],[6.68,0.1],
  [6.69,1.65],[6.698,-0.5],[6.708,1.0],[6.718,-0.3],[6.73,0.5],[6.745,-0.1],[6.76,0.3],[6.79,0.15],[6.85,0.1],[6.92,0.05],[6.99,0.05],[7.03,0.1],
  [7.04,2.6],[7.047,-1.85],[7.057,1.7],[7.065,-0.9],[7.075,1.05],[7.085,-0.5],[7.1,0.5],[7.115,-0.1],[7.13,0.3],[7.15,0.15],[7.16,0.2],
  [7.17,2.6],[7.177,-1.4],[7.187,1.7],[7.195,-0.7],[7.205,1.05],[7.215,-0.4],[7.23,0.5],[7.245,-0.1],[7.26,0.35],[7.29,0.2],[7.34,0.15],[7.4,0.1],[7.45,0.08],[7.47,0.1],
  [7.48,1.8],[7.488,-1.0],[7.498,1.45],[7.508,-0.5],[7.52,0.75],[7.535,-0.2],[7.55,0.35],[7.57,0.1],[7.6,0.15],[7.63,0.1],
  [7.64,1.5],[7.648,-0.5],[7.658,0.9],[7.668,-0.3],[7.68,0.45],[7.695,-0.1],[7.71,0.3],[7.74,0.15],[7.8,0.1],[7.87,0.05],[7.93,0.05],[7.95,0.1],
  [7.96,2.2],[7.967,-1.2],[7.977,1.45],[7.985,-0.6],[7.995,0.9],[8.005,-0.35],[8.02,0.45],[8.035,-0.1],[8.05,0.3],[8.07,0.15],[8.09,0.2],
  [8.1,2.0],[8.107,-1.2],[8.117,1.3],[8.125,-0.6],[8.135,0.8],[8.145,-0.35],[8.16,0.4],[8.175,-0.1],[8.19,0.3],[8.22,0.2],[8.27,0.15],[8.33,0.1],[8.39,0.08],[8.41,0.1],
  [8.42,1.7],[8.428,-1.0],[8.438,1.35],[8.448,-0.5],[8.46,0.7],[8.475,-0.2],[8.49,0.35],[8.51,0.1],[8.56,0.15],[8.6,0.1],
  [8.62,1.4],[8.628,-0.5],[8.638,0.85],[8.648,-0.3],[8.66,0.45],[8.675,-0.1],[8.69,0.3],[8.72,0.15],[8.78,0.1],[8.85,0.05],[8.91,0.05],[8.93,0.1],
  [8.94,2.3],[8.947,-1.85],[8.957,1.5],[8.965,-0.9],[8.975,0.95],[8.985,-0.5],[9.0,0.45],[9.015,-0.1],[9.03,0.3],[9.06,0.15],[9.08,0.2],
  [9.09,2.6],[9.097,-1.4],[9.107,1.7],[9.115,-0.7],[9.125,1.05],[9.135,-0.4],[9.15,0.5],[9.165,-0.1],[9.18,0.35],[9.21,0.2],[9.26,0.15],[9.32,0.1],[9.38,0.08],[9.4,0.1],
  [9.41,1.8],[9.418,-0.9],[9.428,1.45],[9.438,-0.45],[9.45,0.75],[9.465,-0.2],[9.48,0.35],[9.5,0.1],[9.55,0.15],[9.59,0.1],
  [9.6,1.58],[9.608,-0.5],[9.618,0.95],[9.628,-0.3],[9.64,0.5],[9.655,-0.1],[9.67,0.3],[9.7,0.15],[9.76,0.1],[9.82,0.05]
];
var ezGreen = [
  [0,0],[0.2,0.0],
  [0.44,0.0],[0.46,0.4],[0.485,-0.35],[0.51,0.45],[0.535,-0.3],[0.56,0.35],[0.585,-0.2],[0.6,0.0],
  [0.8,0.0],[0.82,0.35],[0.845,-0.4],[0.87,0.4],[0.895,-0.3],[0.92,0.3],[0.94,0.0],
  [1.0,0.0],[1.02,0.35],[1.045,-0.3],[1.07,0.3],[1.095,-0.2],[1.11,0.0],
  [1.3,0.0],[1.32,0.4],[1.345,-0.45],[1.37,0.45],[1.395,-0.35],[1.42,0.35],[1.44,0.0],
  [1.76,0.0],[1.78,0.35],[1.805,-0.4],[1.83,0.4],[1.855,-0.3],[1.88,0.3],[1.9,0.0],
  [2.05,0.0],[2.07,0.35],[2.095,-0.3],[2.12,0.35],[2.145,-0.25],[2.17,0.25],[2.19,0.0],
  [2.25,0.0],[2.27,0.4],[2.295,-0.4],[2.32,0.4],[2.345,-0.3],[2.37,0.3],[2.39,0.0],
  [2.7,0.0],[2.72,0.35],[2.745,-0.4],[2.77,0.4],[2.795,-0.3],[2.82,0.3],[2.84,0.0],
  [2.95,0.0],[2.97,0.35],[2.995,-0.3],[3.02,0.35],[3.045,-0.25],[3.07,0.25],[3.09,0.0],
  [3.22,0.0],[3.24,0.4],[3.265,-0.45],[3.29,0.45],[3.315,-0.35],[3.34,0.3],[3.36,0.0],
  [3.67,0.0],[3.69,0.35],[3.715,-0.4],[3.74,0.4],[3.765,-0.3],[3.79,0.0],
  [3.9,0.0],[3.92,0.35],[3.945,-0.3],[3.97,0.35],[3.995,-0.25],[4.02,0.25],[4.04,0.0],
  [4.15,0.0],[4.17,0.4],[4.195,-0.4],[4.22,0.45],[4.245,-0.35],[4.27,0.3],[4.29,0.0],
  [4.6,0.0],[4.62,0.35],[4.645,-0.4],[4.67,0.4],[4.695,-0.3],[4.72,0.3],[4.74,0.0],
  [4.85,0.0],[4.87,0.35],[4.895,-0.3],[4.92,0.35],[4.945,-0.25],[4.97,0.25],[4.99,0.0],
  [5.11,0.0],[5.13,0.4],[5.155,-0.45],[5.18,0.45],[5.205,-0.35],[5.23,0.3],[5.25,0.0],
  [5.58,0.0],[5.6,0.35],[5.625,-0.4],[5.65,0.4],[5.675,-0.3],[5.7,0.3],[5.72,0.0],
  [5.85,0.0],[5.87,0.35],[5.895,-0.35],[5.92,0.4],[5.945,-0.3],[5.97,0.25],[5.99,0.0],
  [6.06,0.0],[6.08,0.4],[6.105,-0.4],[6.13,0.45],[6.155,-0.35],[6.18,0.3],[6.2,0.0],
  [6.3,0.0],[6.32,0.3],[6.345,-0.25],[6.37,0.3],[6.39,0.0],
  [6.56,0.0],[6.58,0.35],[6.605,-0.4],[6.63,0.4],[6.655,-0.3],[6.68,0.3],[6.7,0.0],
  [6.8,0.0],[6.82,0.35],[6.845,-0.3],[6.87,0.35],[6.895,-0.25],[6.92,0.25],[6.94,0.0],
  [7.06,0.0],[7.08,0.4],[7.105,-0.45],[7.13,0.45],[7.155,-0.35],[7.18,0.3],[7.2,0.0],
  [7.5,0.0],[7.52,0.35],[7.545,-0.4],[7.57,0.4],[7.595,-0.3],[7.62,0.3],[7.64,0.0],
  [7.75,0.0],[7.77,0.35],[7.795,-0.3],[7.82,0.35],[7.845,-0.25],[7.87,0.25],[7.89,0.0],
  [7.98,0.0],[8.0,0.4],[8.025,-0.4],[8.05,0.45],[8.075,-0.35],[8.1,0.3],[8.12,0.0],
  [8.2,0.0],[8.22,0.3],[8.245,-0.25],[8.27,0.3],[8.29,0.0],
  [8.45,0.0],[8.47,0.35],[8.495,-0.4],[8.52,0.4],[8.545,-0.3],[8.57,0.3],[8.59,0.0],
  [8.7,0.0],[8.72,0.35],[8.745,-0.3],[8.77,0.35],[8.795,-0.25],[8.82,0.25],[8.84,0.0],
  [8.96,0.0],[8.98,0.4],[9.005,-0.45],[9.03,0.45],[9.055,-0.35],[9.08,0.3],[9.1,0.0],
  [9.43,0.0],[9.45,0.35],[9.475,-0.4],[9.5,0.4],[9.525,-0.3],[9.55,0.3],[9.57,0.0],
  [9.65,0.0],[9.67,0.3],[9.695,-0.25],[9.72,0.3],[9.745,-0.2],[9.76,0.0],[9.8,0.0]
];
var ezBlue = [
  [0,0],[0.01,0.3],[0.02,-0.3],[0.03,0.25],[0.04,-0.3],[0.05,0.3],[0.06,-0.25],[0.07,0.3],[0.08,-0.3],[0.09,0.25],[0.1,-0.2],[0.11,0.2],[0.12,-0.15],[0.13,0.1],[0.15,0.0],
  [0.29,0.02],[0.3,0.5],[0.31,-0.6],[0.32,0.45],[0.33,-0.5],[0.34,0.3],[0.35,-0.25],[0.365,0.02],
  [0.42,0.02],[0.43,0.55],[0.44,-0.7],[0.45,0.5],[0.46,-0.55],[0.47,0.3],[0.48,-0.3],[0.495,0.02],
  [0.73,0.02],[0.74,0.45],[0.75,-0.45],[0.76,0.4],[0.77,-0.4],[0.78,0.25],[0.79,-0.2],[0.805,0.02],
  [0.91,0.02],[0.92,0.35],[0.93,-0.35],[0.94,0.3],[0.95,-0.3],[0.965,0.02],
  [1.27,0.02],[1.28,0.55],[1.29,-0.7],[1.3,0.5],[1.31,-0.55],[1.32,0.35],[1.33,-0.3],[1.345,0.02],
  [1.39,0.02],[1.4,0.5],[1.41,-0.6],[1.42,0.45],[1.43,-0.5],[1.44,0.3],[1.45,-0.25],[1.465,0.02],
  [1.71,0.02],[1.72,0.45],[1.73,-0.5],[1.74,0.4],[1.75,-0.4],[1.76,0.25],[1.77,-0.2],[1.785,0.02],
  [1.87,0.02],[1.88,0.35],[1.89,-0.35],[1.9,0.3],[1.91,-0.3],[1.925,0.02],
  [2.19,0.02],[2.2,0.55],[2.21,-0.65],[2.22,0.5],[2.23,-0.5],[2.24,0.3],[2.25,-0.3],[2.265,0.02],
  [2.32,0.02],[2.33,0.5],[2.34,-0.6],[2.35,0.45],[2.36,-0.45],[2.37,0.3],[2.38,-0.25],[2.395,0.02],
  [2.65,0.02],[2.66,0.45],[2.67,-0.5],[2.68,0.4],[2.69,-0.4],[2.7,0.25],[2.71,-0.2],[2.725,0.02],
  [2.81,0.02],[2.82,0.35],[2.83,-0.35],[2.84,0.3],[2.85,-0.3],[2.865,0.02],
  [3.17,0.02],[3.18,0.55],[3.19,-0.7],[3.2,0.5],[3.21,-0.55],[3.22,0.35],[3.23,-0.3],[3.245,0.02],
  [3.29,0.02],[3.3,0.5],[3.31,-0.6],[3.32,0.45],[3.33,-0.5],[3.34,0.3],[3.35,-0.25],[3.365,0.02],
  [3.62,0.02],[3.63,0.45],[3.64,-0.5],[3.65,0.4],[3.66,-0.4],[3.67,0.25],[3.68,-0.2],[3.695,0.02],
  [3.76,0.02],[3.77,0.35],[3.78,-0.35],[3.79,0.3],[3.8,-0.3],[3.815,0.02],
  [4.1,0.02],[4.11,0.55],[4.12,-0.7],[4.13,0.5],[4.14,-0.65],[4.15,0.35],[4.16,-0.6],[4.175,0.02],
  [4.22,0.02],[4.23,0.5],[4.24,-0.55],[4.25,0.45],[4.26,-0.5],[4.27,0.3],[4.28,-0.25],[4.295,0.02],
  [4.54,0.02],[4.55,0.45],[4.56,-0.5],[4.57,0.4],[4.58,-0.4],[4.59,0.25],[4.6,-0.2],[4.615,0.02],
  [4.72,0.02],[4.73,0.35],[4.74,-0.35],[4.75,0.3],[4.76,-0.3],[4.775,0.02],
  [5.06,0.02],[5.07,0.55],[5.08,-0.7],[5.09,0.5],[5.1,-0.55],[5.11,0.35],[5.12,-0.3],[5.135,0.02],
  [5.19,0.02],[5.2,0.5],[5.21,-0.6],[5.22,0.45],[5.23,-0.5],[5.24,0.3],[5.25,-0.25],[5.265,0.02],
  [5.53,0.02],[5.54,0.45],[5.55,-0.5],[5.56,0.4],[5.57,-0.45],[5.58,0.25],[5.59,-0.2],[5.605,0.02],
  [5.72,0.02],[5.73,0.35],[5.74,-0.4],[5.75,0.3],[5.76,-0.3],[5.775,0.02],
  [6.01,0.02],[6.02,0.55],[6.03,-0.65],[6.04,0.5],[6.05,-0.5],[6.06,0.3],[6.07,-0.3],[6.085,0.02],
  [6.14,0.02],[6.15,0.5],[6.16,-0.6],[6.17,0.45],[6.18,-0.45],[6.19,0.3],[6.2,-0.25],[6.215,0.02],
  [6.51,0.02],[6.52,0.45],[6.53,-0.5],[6.54,0.4],[6.55,-0.4],[6.56,0.25],[6.57,-0.2],[6.585,0.02],
  [6.66,0.02],[6.67,0.35],[6.68,-0.35],[6.69,0.3],[6.7,-0.3],[6.715,0.02],
  [7.01,0.02],[7.02,0.55],[7.03,-0.7],[7.04,0.5],[7.05,-0.55],[7.06,0.35],[7.07,-0.3],[7.085,0.02],
  [7.14,0.02],[7.15,0.5],[7.16,-0.6],[7.17,0.45],[7.18,-0.5],[7.19,0.3],[7.2,-0.25],[7.215,0.02],
  [7.45,0.02],[7.46,0.45],[7.47,-0.5],[7.48,0.4],[7.49,-0.4],[7.5,0.25],[7.51,-0.2],[7.525,0.02],
  [7.61,0.02],[7.62,0.35],[7.63,-0.35],[7.64,0.3],[7.65,-0.3],[7.665,0.02],
  [7.93,0.02],[7.94,0.55],[7.95,-0.65],[7.96,0.5],[7.97,-0.5],[7.98,0.3],[7.99,-0.3],[8.005,0.02],
  [8.07,0.02],[8.08,0.5],[8.09,-0.6],[8.1,0.45],[8.11,-0.45],[8.12,0.3],[8.13,-0.25],[8.145,0.02],
  [8.39,0.02],[8.4,0.45],[8.41,-0.5],[8.42,0.4],[8.43,-0.4],[8.44,0.25],[8.45,-0.2],[8.465,0.02],
  [8.59,0.02],[8.6,0.35],[8.61,-0.35],[8.62,0.3],[8.63,-0.3],[8.645,0.02],
  [8.91,0.02],[8.92,0.55],[8.93,-0.7],[8.94,0.5],[8.95,-0.55],[8.96,0.35],[8.97,-0.3],[8.985,0.02],
  [9.06,0.02],[9.07,0.5],[9.08,-0.6],[9.09,0.45],[9.1,-0.5],[9.11,0.3],[9.12,-0.25],[9.135,0.02],
  [9.38,0.02],[9.39,0.45],[9.4,-0.5],[9.41,0.4],[9.42,-0.45],[9.43,0.25],[9.44,-0.2],[9.455,0.02],
  [9.57,0.02],[9.58,0.35],[9.59,-0.4],[9.6,0.3],[9.61,-0.3],[9.625,0.02],[9.82,0.02]
];

var axisInk = '#262626';
var serif = '"Liberation Serif", "Times New Roman", serif';

function toXY(pairs) {
  return pairs.map(function (p) { return { x: p[0], y: p[1] }; });
}

// box around the axes, inward tick marks, y label with subscript,
// plus the legend on the top panel and the time label on the bottom one
var framePlugin = {
  id: 'frame',
  afterDraw: function (chart, args, opts) {
    var ctx = chart.ctx, a = chart.chartArea;
    var xs = chart.scales.x, ys = chart.scales.y;
    ctx.save();
    ctx.strokeStyle = axisInk;
    ctx.lineWidth = 1;
    ctx.strokeRect(a.left + 0.5, a.top + 0.5, a.right - a.left - 1, a.bottom - a.top - 1);
    ctx.beginPath();
    xs.ticks.forEach(function (t) {
      var px = Math.round(xs.getPixelForValue(t.value)) + 0.5;
      ctx.moveTo(px, a.top); ctx.lineTo(px, a.top + 5);
      ctx.moveTo(px, a.bottom); ctx.lineTo(px, a.bottom - 5);
    });
    ys.ticks.forEach(function (t) {
      var py = Math.round(ys.getPixelForValue(t.value)) + 0.5;
      ctx.moveTo(a.left, py); ctx.lineTo(a.left + 5, py);
      ctx.moveTo(a.right, py); ctx.lineTo(a.right - 5, py);
    });
    ctx.stroke();

    // y label: italic e, subscript axis letter, then the unit
    ctx.translate(26, (a.top + a.bottom) / 2);
    ctx.rotate(-Math.PI / 2);
    ctx.fillStyle = axisInk;
    ctx.textBaseline = 'alphabetic';
    var fE = 'italic 17px ' + serif, fSub = 'italic 12px ' + serif, fUnit = '16px ' + serif;
    ctx.font = fE; var w1 = ctx.measureText('e').width;
    ctx.font = fSub; var w2 = ctx.measureText(opts.sub).width;
    ctx.font = fUnit; var w3 = ctx.measureText(' [mm]').width;
    var x0 = -(w1 + w2 + w3) / 2;
    ctx.font = fE; ctx.fillText('e', x0, 5);
    ctx.font = fSub; ctx.fillText(opts.sub, x0 + w1, 8);
    ctx.font = fUnit; ctx.fillText(' [mm]', x0 + w1 + w2 + 1, 5);
    ctx.setTransform(1, 0, 0, 1, 0, 0);

    if (opts.legend) {
      var swatchX = [55, 167, 303], textX = [100, 212, 350];
      ctx.font = 'bold 15.5px ' + serif;
      ctx.textBaseline = 'middle';
      chart.data.datasets.forEach(function (ds, i) {
        ctx.fillStyle = legendColors[i];
        ctx.fillRect(swatchX[i], 15, 37, 6);
        ctx.fillStyle = '#000';
        ctx.fillText(ds.label, textX[i], 18);
      });
    }
    if (opts.timeLabel) {
      ctx.font = 'bold 17px ' + serif;
      ctx.fillStyle = axisInk;
      ctx.textAlign = 'center';
      ctx.textBaseline = 'middle';
      ctx.fillText('Time [sec]', 305, chart.height - 14);
    }
    ctx.restore();
  }
};

function makePanel(id, sets, sub, yMin, yMax, yTicks, padTop, xAxisH, bottomPanel, legend) {
  var widths = [2.4, 2, 2.2];
  var orders = [3, 2, 1];
  return new Chart(document.getElementById(id), {
    type: 'line',
    data: {
      datasets: sets.map(function (s, i) {
        return {
          label: seriesNames[i],
          data: toXY(s),
          borderColor: lineColors[i],
          borderWidth: widths[i],
          order: orders[i],
          clip: 0
        };
      })
    },
    options: {
      responsive: false,
      animation: false,
      parsing: false,
      events: [],
      elements: {
        point: { radius: 0 },
        line: { tension: 0, fill: false, borderJoinStyle: 'round' }
      },
      layout: { padding: { top: padTop, right: 16, left: 0, bottom: 0 } },
      plugins: {
        legend: { display: false },
        tooltip: { enabled: false },
        frame: { sub: sub, legend: legend, timeLabel: bottomPanel }
      },
      scales: {
        x: {
          type: 'linear', min: 0, max: 10,
          grid: { display: false, drawTicks: false },
          border: { display: false },
          afterBuildTicks: function (s) { s.ticks = timeTicks.map(function (v) { return { value: v }; }); },
          afterFit: function (s) { s.height = xAxisH; },
          ticks: {
            display: bottomPanel, padding: 8, color: axisInk,
            font: { family: serif, size: 16, weight: 'bold' }
          }
        },
        y: {
          type: 'linear', min: yMin, max: yMax,
          grid: { display: false, drawTicks: false },
          border: { display: false },
          afterBuildTicks: function (s) { s.ticks = yTicks.map(function (v) { return { value: v }; }); },
          afterFit: function (s) { s.width = 63; },
          ticks: {
            padding: 10, color: axisInk,
            font: { family: serif, size: 15, weight: 'bold' }
          }
        }
      }
    },
    plugins: [framePlugin]
  });
}

makePanel('chartX', [exRed, exGreen, exBlue], 'x', -3.15, 3.3, exTicks, 44, 20, false, true);
makePanel('chartY', [eyRed, eyGreen, eyBlue], 'y', -3.26, 2.7, eyTicks, 34, 20, false, false);
makePanel('chartZ', [ezRed, ezGreen, ezBlue], 'z', -1.82, 2.5, ezTicks, 32, 52, true, false);
</script>
</body>
</html>
